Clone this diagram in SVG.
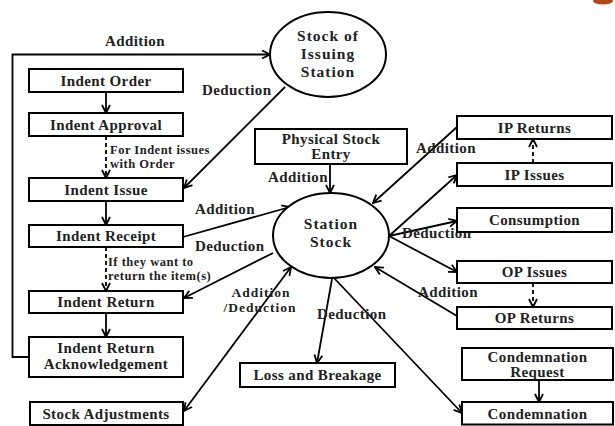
<svg xmlns="http://www.w3.org/2000/svg" width="615" height="426" viewBox="0 0 615 426">
<style>
.box{fill:#fff;stroke:#000;stroke-width:2}
.ell{fill:#fff;stroke:#000;stroke-width:2}
.t{font-family:'Liberation Serif','DejaVu Serif','Times New Roman',serif;font-weight:bold;font-size:15px;letter-spacing:0.4px;fill:#222;text-anchor:middle}
.c{font-family:'Liberation Serif','DejaVu Serif','Times New Roman',serif;font-weight:bold;font-size:15.5px;letter-spacing:1px;fill:#222;text-anchor:middle}
.l{font-family:'Liberation Serif','DejaVu Serif','Times New Roman',serif;font-weight:bold;font-size:15px;letter-spacing:0.4px;fill:#222}
.m{font-family:'Liberation Serif','DejaVu Serif','Times New Roman',serif;font-weight:bold;font-size:13.5px;letter-spacing:1px;fill:#222;text-anchor:middle}
.n{font-family:'Liberation Serif','DejaVu Serif','Times New Roman',serif;font-weight:bold;font-size:12.5px;letter-spacing:0.5px;fill:#222}
.ln{fill:none;stroke:#000;stroke-width:1.8}
.a{marker-end:url(#arr)}
.d{stroke-dasharray:4 3}
</style>
<defs>
<marker id="arr" viewBox="0 0 10 10" refX="9" refY="5" markerWidth="10" markerHeight="10" markerUnits="userSpaceOnUse" orient="auto-start-reverse">
<path d="M1,1 L9,5 L1,9" fill="none" stroke="#000" stroke-width="1.8"/>
</marker>
</defs>
<rect width="615" height="426" fill="#fff"/>
<ellipse cx="603" cy="1" rx="10" ry="3.5" fill="#b0481c"/>

<g id="connectors">
<polyline class="ln a" points="30,357 12.5,357 12.5,54.5 270,54.5"/>
<line class="ln a" x1="285" y1="87" x2="184" y2="188"/>
<line class="ln a" x1="106" y1="92" x2="106" y2="113"/>
<line class="ln a d" x1="106" y1="136" x2="106" y2="178"/>
<line class="ln a" x1="106" y1="201" x2="106" y2="225"/>
<line class="ln a d" x1="106" y1="247" x2="106" y2="291"/>
<line class="ln a" x1="106" y1="313" x2="106" y2="337"/>
<line class="ln a" x1="183" y1="237" x2="290" y2="207"/>
<line class="ln a" x1="273" y1="253" x2="184" y2="298"/>
<line class="ln a" x1="184" y1="411" x2="291" y2="267" marker-start="url(#arr)"/>
<line class="ln a" x1="330" y1="164" x2="330" y2="193"/>
<line class="ln a" x1="457" y1="127" x2="373" y2="203"/>
<line class="ln a" x1="389" y1="236" x2="457" y2="175"/>
<line class="ln a" x1="389" y1="236" x2="457" y2="221"/>
<line class="ln a" x1="389" y1="236" x2="457" y2="272"/>
<line class="ln a" x1="457" y1="316" x2="375" y2="267"/>
<line class="ln a" x1="332" y1="279" x2="317" y2="363"/>
<line class="ln a" x1="334" y1="278" x2="462" y2="413"/>
<line class="ln a d" x1="533" y1="163" x2="533" y2="139"/>
<line class="ln a d" x1="533" y1="283" x2="533" y2="307"/>
<line class="ln a" x1="539" y1="380" x2="539" y2="402"/>
</g>

<g id="labels">
<text class="l" x="105" y="46">Addition</text>
<text class="l" x="202" y="95">Deduction</text>
<text class="n" x="110" y="154">For Indent issues</text>
<text class="n" x="110" y="168">with Order</text>
<text class="l" x="195" y="214">Addition</text>
<text class="l" x="195" y="251">Deduction</text>
<text class="n" x="108" y="266">If they want to</text>
<text class="n" x="108" y="280">return the item(s)</text>
<text class="l" x="268" y="182">Addition</text>
<text class="l" x="416" y="153">Addition</text>
<text class="l" x="402" y="238">Deduction</text>
<text class="l" x="418" y="297">Addition</text>
<text class="m" x="261" y="297">Addition</text>
<text class="m" x="260" y="312">/Deduction</text>
<text class="l" x="317" y="319">Deduction</text>
</g>

<g id="stock-of-issuing-station">
<ellipse class="ell" cx="328" cy="54.5" rx="58" ry="42.5"/>
<text class="c" x="328" y="41">Stock of</text>
<text class="c" x="328" y="59">Issuing</text>
<text class="c" x="328" y="77">Station</text>
</g>
<g id="station-stock">
<ellipse class="ell" cx="331" cy="235.5" rx="58" ry="42.5"/>
<text class="c" x="331" y="229">Station</text>
<text class="c" x="331" y="247">Stock</text>
</g>

<g id="indent-order"><rect class="box" x="29" y="69" width="154" height="23"/><text class="t" x="106" y="85.5">Indent Order</text></g>
<g id="indent-approval"><rect class="box" x="29" y="113" width="154" height="23"/><text class="t" x="106" y="129.5">Indent Approval</text></g>
<g id="indent-issue"><rect class="box" x="29" y="178" width="154" height="23"/><text class="t" x="106" y="194.5">Indent Issue</text></g>
<g id="indent-receipt"><rect class="box" x="29" y="225" width="154" height="22"/><text class="t" x="106" y="241">Indent Receipt</text></g>
<g id="indent-return"><rect class="box" x="29" y="291" width="154" height="22"/><text class="t" x="106" y="307">Indent Return</text></g>
<g id="indent-return-ack"><rect class="box" x="29" y="337" width="154" height="40"/><text class="t" x="106" y="352.5">Indent Return</text><text class="t" x="106" y="368.5">Acknowledgement</text></g>
<g id="stock-adjustments"><rect class="box" x="30" y="402" width="153" height="23"/><text class="t" x="106" y="418.5">Stock Adjustments</text></g>
<g id="loss-and-breakage"><rect class="box" x="240" y="363" width="155" height="24"/><text class="t" x="317.5" y="380">Loss and Breakage</text></g>
<g id="physical-stock-entry"><rect class="box" x="255" y="129" width="152" height="35"/><text class="t" x="331" y="144">Physical Stock</text><text class="t" x="331" y="159">Entry</text></g>
<g id="ip-returns"><rect class="box" x="457" y="116" width="155" height="23"/><text class="t" x="534.5" y="132.5">IP Returns</text></g>
<g id="ip-issues"><rect class="box" x="457" y="163" width="155" height="23"/><text class="t" x="534.5" y="179.5">IP Issues</text></g>
<g id="consumption"><rect class="box" x="457" y="208" width="155" height="24"/><text class="t" x="534.5" y="225">Consumption</text></g>
<g id="op-issues"><rect class="box" x="457" y="261" width="155" height="22"/><text class="t" x="534.5" y="277">OP Issues</text></g>
<g id="op-returns"><rect class="box" x="457" y="307" width="155" height="22"/><text class="t" x="534.5" y="323">OP Returns</text></g>
<g id="condemnation-request"><rect class="box" x="462" y="348" width="151" height="32"/><text class="t" x="537.5" y="362">Condemnation</text><text class="t" x="537.5" y="377">Request</text></g>
<g id="condemnation"><rect class="box" x="462" y="402" width="151" height="22.5"/><text class="t" x="537.5" y="418.5">Condemnation</text></g>
</svg>
